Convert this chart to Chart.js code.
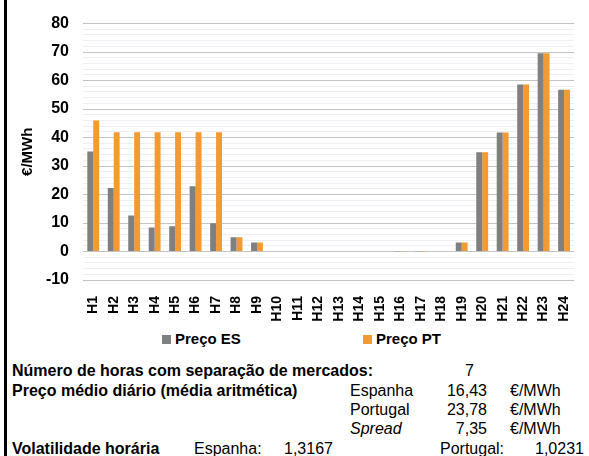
<!DOCTYPE html>
<html>
<head>
<meta charset="utf-8">
<script src="https://cdn.jsdelivr.net/npm/chart.js@4"></script>
<style>
  body { margin: 0; background: #fff; font-family: "Liberation Sans", Arial, sans-serif; }
  #wrap { position: relative; width: 589px; height: 456px; overflow: hidden; }
  #chart { position: absolute; left: 0; top: 0; }
  #frame { position: absolute; left: 4px; top: 0; width: 3px; height: 456px; background: #000; }
  .t { position: absolute; white-space: nowrap; font-size: 16px; line-height: 19px; color: #000; }
  .b { font-weight: bold; font-size: 16px; }
  .r { text-align: right; }
  .leg { position: absolute; font-weight: bold; font-size: 15px; line-height: 17px; white-space: nowrap; }
  .leg i { display: inline-block; width: 9px; height: 9px; margin-right: 4px; }
</style>
</head>
<body>
<div id="wrap">
  <canvas id="chart" width="589" height="324"></canvas>
  <div id="frame"></div>
  <div id="legend"></div>

  <div class="t b" style="left:12px;top:361px">Número de horas com separação de mercados:</div>
  <div class="t" style="left:465px;top:361px">7</div>

  <div class="t b" style="left:12px;top:381px">Preço médio diário (média aritmética)</div>
  <div class="t" style="left:350px;top:381px">Espanha</div>
  <div class="t r" style="left:427px;width:60px;top:381px">16,43</div>
  <div class="t" style="left:510px;top:381px">€/MWh</div>

  <div class="t" style="left:350px;top:400px">Portugal</div>
  <div class="t r" style="left:427px;width:60px;top:400px">23,78</div>
  <div class="t" style="left:510px;top:400px">€/MWh</div>

  <div class="t" style="left:350px;top:419px"><em>Spread</em></div>
  <div class="t r" style="left:427px;width:60px;top:419px">7,35</div>
  <div class="t" style="left:510px;top:419px">€/MWh</div>

  <div class="t b" style="left:12px;top:439px">Volatilidade horária</div>
  <div class="t" style="left:194px;top:439px">Espanha:</div>
  <div class="t" style="left:284px;top:439px">1,3167</div>
  <div class="t" style="left:440px;top:439px">Portugal:</div>
  <div class="t" style="left:535px;top:439px">1,0231</div>
</div>

<script>
const horas = ['H1','H2','H3','H4','H5','H6','H7','H8','H9','H10','H11','H12',
  'H13','H14','H15','H16','H17','H18','H19','H20','H21','H22','H23','H24'];
const precoES = [35.1, 22.3, 12.6, 8.4, 8.9, 22.9, 9.9, 5.0, 3.2, 0, 0, 0,
  0, 0, 0, 0.1, 0.1, 0, 3.2, 34.8, 41.8, 58.6, 69.6, 56.8];
const precoPT = [46.0, 41.9, 41.9, 41.9, 41.9, 41.9, 41.9, 5.0, 3.2, 0, 0, 0,
  0, 0, 0, 0.1, 0.1, 0, 3.2, 34.8, 41.8, 58.6, 69.6, 56.8];
const nomesSeries = ['Preço ES', 'Preço PT'];
const coresSeries = ['#808080', '#f39a33'];

const fonte = '"Liberation Sans", Arial, sans-serif';

// legenda em html, posicoes
const legPos = [162, 363];
const legend = document.getElementById('legend');
nomesSeries.forEach((nome, i) => {
  const d = document.createElement('div');
  d.className = 'leg';
  d.style.left = legPos[i] + 'px';
  d.style.top = '330px';
  d.innerHTML = `<i style="background:${coresSeries[i]}"></i>${nome}`;
  legend.appendChild(d);
});

const ctx = document.getElementById('chart').getContext('2d');
new Chart(ctx, {
  type: 'bar',
  data: {
    labels: horas,
    datasets: [
      { label: nomesSeries[0], data: precoES, backgroundColor: coresSeries[0] },
      { label: nomesSeries[1], data: precoPT, backgroundColor: coresSeries[1] }
    ]
  },
  options: {
    responsive: false,
    animation: false,
    layout: { padding: { top: 23, left: 5, right: 6, bottom: 0 } },
    datasets: { bar: { categoryPercentage: 0.58, barPercentage: 1 } },
    plugins: { legend: { display: false }, tooltip: { enabled: false } },
    scales: {
      x: {
        grid: { display: false },
        border: { display: false },
        ticks: {
          color: '#000',
          font: { family: fonte, size: 14, weight: 'bold' },
          minRotation: 90,
          maxRotation: 90,
          autoSkip: false,
          padding: 8
        },
        afterFit: s => { s.height = 44; }
      },
      y: {
        min: -10,
        max: 80,
        border: { display: false },
        grid: {
          drawTicks: false,
          color: c => (c.tick && c.tick.value % 10 === 0) ? '#c4c4c4' : '#eeeef3'
        },
        ticks: {
          stepSize: 2,
          autoSkip: false,
          color: '#000',
          padding: 14,
          font: { family: fonte, size: 16, weight: 'bold' },
          callback: v => (v % 10 === 0 ? v : '')
        },
        title: {
          display: true,
          text: '€/MWh',
          color: '#000',
          font: { family: fonte, size: 15, weight: 'bold' },
          padding: { top: 14, bottom: 0 }
        },
        afterFit: s => { s.width = 78; }
      }
    }
  }
});
</script>
</body>
</html>
